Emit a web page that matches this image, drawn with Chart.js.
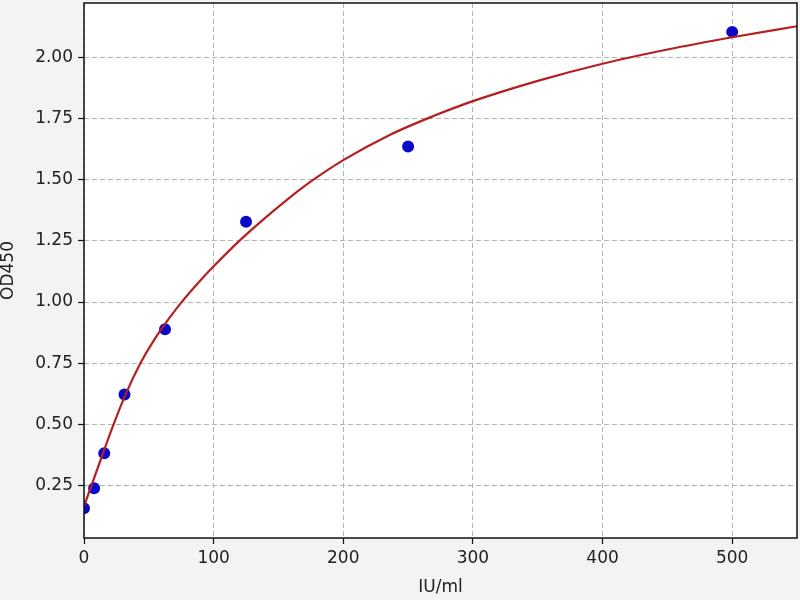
<!DOCTYPE html>
<html>
<head>
<meta charset="utf-8">
<script src="https://cdn.jsdelivr.net/npm/chart.js@4/dist/chart.umd.min.js"></script>
<style>
  html, body { margin: 0; padding: 0; background: #f3f3f3; }
  #wrap { width: 800px; height: 600px; }
</style>
</head>
<body>
<div id="wrap"><canvas id="c" width="800" height="600"></canvas></div>
<script>
// Standard points (concentration IU/ml, OD450)
const stdConc = [0, 7.8, 15.6, 31.25, 62.5, 125, 250, 500];
const stdOD   = [0.158, 0.239, 0.382, 0.622, 0.889, 1.328, 1.636, 2.104];

// Fitted curve
const fitConc = [0, 5.7, 12, 22.6, 32, 43.7, 55, 65.6, 75.3, 88, 100, 119, 140, 158.9, 174.3, 200, 235, 270, 300, 350, 400, 450, 500, 550];
const fitOD   = [0.166, 0.25, 0.343, 0.497, 0.622, 0.752, 0.853, 0.933, 1.0, 1.078, 1.146, 1.246, 1.345, 1.428, 1.49, 1.58, 1.681, 1.761, 1.821, 1.904, 1.974, 2.032, 2.082, 2.127];

// Tick labels
const xTicks = [0, 100, 200, 300, 400, 500];
const yTicks = [0.25, 0.50, 0.75, 1.00, 1.25, 1.50, 1.75, 2.00];

const xTitle = 'IU/ml';
const yTitle = 'OD450';

const bgPlugin = {
  id: 'bg',
  beforeDraw(chart) {
    const ctx = chart.ctx, a = chart.chartArea;
    ctx.save();
    ctx.fillStyle = '#f3f3f3';
    ctx.fillRect(0, 0, chart.width, chart.height);
    ctx.fillStyle = '#ffffff';
    ctx.fillRect(a.left, a.top, a.right - a.left, a.bottom - a.top);
    ctx.restore();
  },
  afterDraw(chart) {
    const ctx = chart.ctx, a = chart.chartArea;
    ctx.save();
    ctx.strokeStyle = '#111111';
    ctx.lineWidth = 1.5;
    ctx.setLineDash([]);
    ctx.strokeRect(a.left, a.top, a.right - a.left, a.bottom - a.top);
    ctx.restore();
  }
};

const font = { family: 'DejaVu Sans', size: 17 };

new Chart(document.getElementById('c'), {
  type: 'scatter',
  data: {
    datasets: [
      {
        label: 'fit',
        data: fitConc.map((x, i) => ({ x: x, y: fitOD[i] })),
        showLine: true,
        pointRadius: 0,
        borderColor: '#b41f22',
        borderWidth: 2.2,
        cubicInterpolationMode: 'monotone',
        order: 0
      },
      {
        label: 'std',
        data: stdConc.map((x, i) => ({ x: x, y: stdOD[i] })),
        pointRadius: 6,
        backgroundColor: '#0a0ac8',
        borderColor: '#0a0ac8',
        borderWidth: 0,
        order: 1
      }
    ]
  },
  options: {
    responsive: false,
    animation: false,
    devicePixelRatio: 1,
    layout: { autoPadding: false, padding: { left: 0, top: 3, right: 3, bottom: 0 } },
    plugins: { legend: { display: false }, tooltip: { enabled: false } },
    scales: {
      x: {
        type: 'linear',
        min: 0, max: 550,
        afterBuildTicks(s) { s.ticks = xTicks.map(v => ({ value: v })); },
        afterFit(s) { s.height = 62; s.paddingLeft = 0; s.paddingRight = 0; },
        ticks: { font: font, color: '#222', padding: 4, callback: v => String(v), maxRotation: 0 },
        grid: { color: '#b5b5b5', lineWidth: 1, tickColor: '#111', tickLength: 6, tickWidth: 1.2, tickBorderDash: [] },
        border: { display: false, dash: [5, 3] },
        title: { display: true, text: xTitle, font: font, color: '#222', padding: { top: 0, bottom: 2 } }
      },
      y: {
        type: 'linear',
        min: 0.036, max: 2.222,
        afterBuildTicks(s) { s.ticks = yTicks.map(v => ({ value: v })); },
        afterFit(s) { s.width = 84; s.paddingTop = 0; s.paddingBottom = 0; },
        ticks: { font: font, color: '#222', padding: 5, callback: v => Number(v).toFixed(2) },
        grid: { color: '#b5b5b5', lineWidth: 1, tickColor: '#111', tickLength: 6, tickWidth: 1.2, tickBorderDash: [] },
        border: { display: false, dash: [5, 3] },
        title: { display: true, text: yTitle, font: Object.assign({}, font, { lineHeight: 1 }), color: '#222', padding: { top: 0, bottom: 0 } }
      }
    }
  },
  plugins: [bgPlugin]
});
</script>
</body>
</html>
